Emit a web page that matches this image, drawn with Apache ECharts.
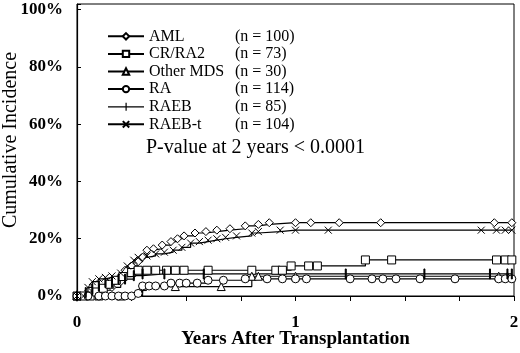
<!DOCTYPE html>
<html>
<head>
<meta charset="utf-8">
<script src="https://cdn.jsdelivr.net/npm/echarts@6/dist/echarts.min.js"></script>
<style>
  html, body { margin: 0; padding: 0; background: #fff; }
  #main { width: 520px; height: 353px; }
</style>
</head>
<body>
<div id="main"></div>
<script>
// years after transplant / cumulative incidence (%)
var amlT = [0, 0.04, 0.08, 0.12, 0.16, 0.2, 0.22, 0.25, 0.28, 0.3, 0.32, 0.35, 0.39, 0.43, 0.46, 0.49, 0.54, 0.59, 0.64, 0.7, 0.77, 0.83, 0.88, 1.0, 1.07, 1.2, 1.39, 1.91, 1.99];
var amlV = [0, 0, 1, 2, 3, 5, 9, 10.5, 12, 13.6, 16, 16.5, 17.8, 19, 20, 21, 22, 22.5, 23, 23.5, 24.5, 25, 25.6, 25.6, 25.6, 25.6, 25.6, 25.6, 25.6];

var crT = [0, 0.03, 0.06, 0.09, 0.12, 0.15, 0.18, 0.21, 0.25, 0.28, 0.32, 0.36, 0.41, 0.45, 0.49, 0.6, 0.8, 0.91, 0.94, 0.98, 1.06, 1.1, 1.32, 1.44, 1.92, 1.96, 1.99];
var crV = [0, 0, 0, 1.4, 2.7, 4.1, 5.5, 6.8, 8.2, 9, 9, 9, 9, 9, 9, 9, 9, 9, 9, 10.5, 10.5, 10.5, 12.6, 12.6, 12.6, 12.6, 12.6];

var mdsT = [0, 0.1, 0.2, 0.3, 0.45, 0.66, 0.8, 0.83, 1.0, 1.93, 1.97];
var mdsV = [0, 0, 0, 3.3, 3.3, 3.3, 6.9, 6.9, 6.9, 6.9, 6.9];

var raT = [0, 0.05, 0.1, 0.13, 0.16, 0.19, 0.22, 0.25, 0.28, 0.3, 0.33, 0.36, 0.4, 0.43, 0.47, 0.5, 0.55, 0.6, 0.67, 0.77, 0.87, 0.94, 1.0, 1.05, 1.25, 1.35, 1.4, 1.46, 1.57, 1.73, 1.93, 1.96, 1.99];
var raV = [0, 0, 0, 0, 0, 0, 0, 0, 0.9, 3.5, 3.5, 3.5, 3.5, 4.5, 4.5, 4.5, 4.5, 5.5, 5.5, 6, 6, 6, 6, 6, 6, 6, 6, 6, 6, 6, 6, 6, 6];

var raebT = [0, 0.04, 0.07, 0.1, 0.13, 0.16, 0.19, 0.22, 0.26, 0.3, 0.4, 0.58, 1.23, 1.59, 1.89, 1.97, 1.99];
var raebV = [0, 1.2, 2.4, 3.5, 4.7, 4.7, 5.9, 5.9, 7.1, 7.7, 7.7, 7.7, 7.7, 7.7, 7.7, 7.7, 7.7];

var raebtT = [0, 0.03, 0.05, 0.07, 0.1, 0.13, 0.16, 0.2, 0.23, 0.26, 0.28, 0.32, 0.36, 0.4, 0.44, 0.48, 0.52, 0.56, 0.6, 0.64, 0.68, 0.73, 0.8, 0.83, 0.93, 1.0, 1.15, 1.85, 1.92, 1.96, 1.99];
var raebtV = [0, 0, 3, 5, 6, 6.5, 7, 8, 10.5, 12.5, 13.5, 14, 14.7, 15.3, 16, 17, 18.5, 19, 19.5, 20, 20.5, 21, 22, 22.5, 23, 23, 23, 23, 23, 23, 23];

var groups = ['AML', 'CR/RA2', 'Other MDS', 'RA', 'RAEB', 'RAEB-t'];
var counts = ['(n = 100)', '(n = 73)', '(n = 30)', '(n = 114)', '(n = 85)', '(n = 104)'];

function zip(t, v) {
  return t.map(function (x, i) { return [x, v[i]]; });
}

var serif = 'Liberation Serif, Times New Roman, serif';

function curve(name, t, v, symbol, size, fill) {
  return {
    name: name,
    type: 'line',
    step: 'end',
    data: zip(t, v),
    symbol: symbol,
    symbolSize: size,
    symbolKeepAspect: true,
    showAllSymbol: true,
    lineStyle: { color: '#000', width: 1.2 },
    itemStyle: { color: fill || '#fff', borderColor: '#000', borderWidth: 1 },
    emphasis: { disabled: true },
    animation: false
  };
}

// legend entries; RAEB gets a line crossed by a short bar
var legendData = groups.map(function (g) {
  if (g === 'RAEB') {
    return { name: g, icon: 'path://M0,3.5h17.5v-3.5h1.2v3.5h17.3v1.2h-17.3v3.3h-1.2v-3.3h-17.5z', itemStyle: { color: '#000', borderWidth: 0 } };
  }
  return { name: g };
});

var chart = echarts.init(document.getElementById('main'));
chart.setOption({
  backgroundColor: '#fff',
  title: {
    text: 'P-value at 2 years < 0.0001',
    left: 141,
    top: 133,
    textStyle: { fontFamily: serif, fontSize: 20, fontWeight: 'normal', color: '#000' }
  },
  legend: {
    orient: 'vertical',
    left: 102,
    top: 22.5,
    itemWidth: 36,
    itemHeight: 8,
    itemGap: 0,
    selectedMode: false,
    data: legendData,
    formatter: function (name) {
      return '{a|' + name + '}{b|' + counts[groups.indexOf(name)] + '}';
    },
    textStyle: {
      fontFamily: serif, fontSize: 16, color: '#000', lineHeight: 17.6,
      rich: {
        a: { width: 86, fontFamily: serif, fontSize: 16, lineHeight: 17.6 },
        b: { fontFamily: serif, fontSize: 16, lineHeight: 17.6 }
      }
    }
  },
  grid: {
    left: 77, right: 6, top: 4, bottom: 57,
    outerBoundsMode: 'none',
    containLabel: false,
    show: true, borderColor: '#000', borderWidth: 1
  },
  xAxis: {
    type: 'value',
    min: 0, max: 2, interval: 0.25,
    name: 'Years After Transplantation',
    nameLocation: 'middle',
    nameGap: 34,
    nameMoveOverlap: false,
    nameTextStyle: { fontFamily: serif, fontSize: 19, fontWeight: 'bold', color: '#000' },
    axisLine: { lineStyle: { color: '#000', width: 1.2 } },
    axisTick: { inside: false, length: 5, lineStyle: { color: '#000' } },
    axisLabel: {
      margin: 18,
      fontFamily: serif, fontSize: 17, fontWeight: 'bold', color: '#000',
      formatter: function (v) { return Math.abs(v - Math.round(v)) < 1e-6 ? String(Math.round(v)) : ''; }
    },
    splitLine: { show: false }
  },
  yAxis: {
    type: 'value',
    min: 0, max: 102, interval: 20,
    name: 'Cumulative Incidence',
    nameLocation: 'middle',
    nameGap: 56,
    nameMoveOverlap: false,
    nameTextStyle: { fontFamily: serif, fontSize: 20, color: '#000', padding: [0, 0, 0, 20] },
    axisLine: { show: true, lineStyle: { color: '#000', width: 1.2 } },
    axisTick: { show: true, inside: true, length: 4, lineStyle: { color: '#000' } },
    axisLabel: {
      margin: 14,
      fontFamily: serif, fontSize: 17, fontWeight: 'bold', color: '#000',
      formatter: function (v) { return v % 20 === 0 && v <= 100 ? v + '%' : ''; }
    },
    splitLine: { show: false }
  },
  series: [
    curve('AML', amlT, amlV, 'diamond', 8),
    curve('CR/RA2', crT, crV, 'rect', 8),
    curve('Other MDS', mdsT, mdsV, 'triangle', 8),
    curve('RA', raT, raV, 'circle', 8),
    curve('RAEB', raebT, raebV, 'path://M0,0h2v20h-2z', 10, '#000'),
    curve('RAEB-t', raebtT, raebtV, 'path://M0,0L10,10M10,0L0,10', 7)
  ]
});
</script>
</body>
</html>
